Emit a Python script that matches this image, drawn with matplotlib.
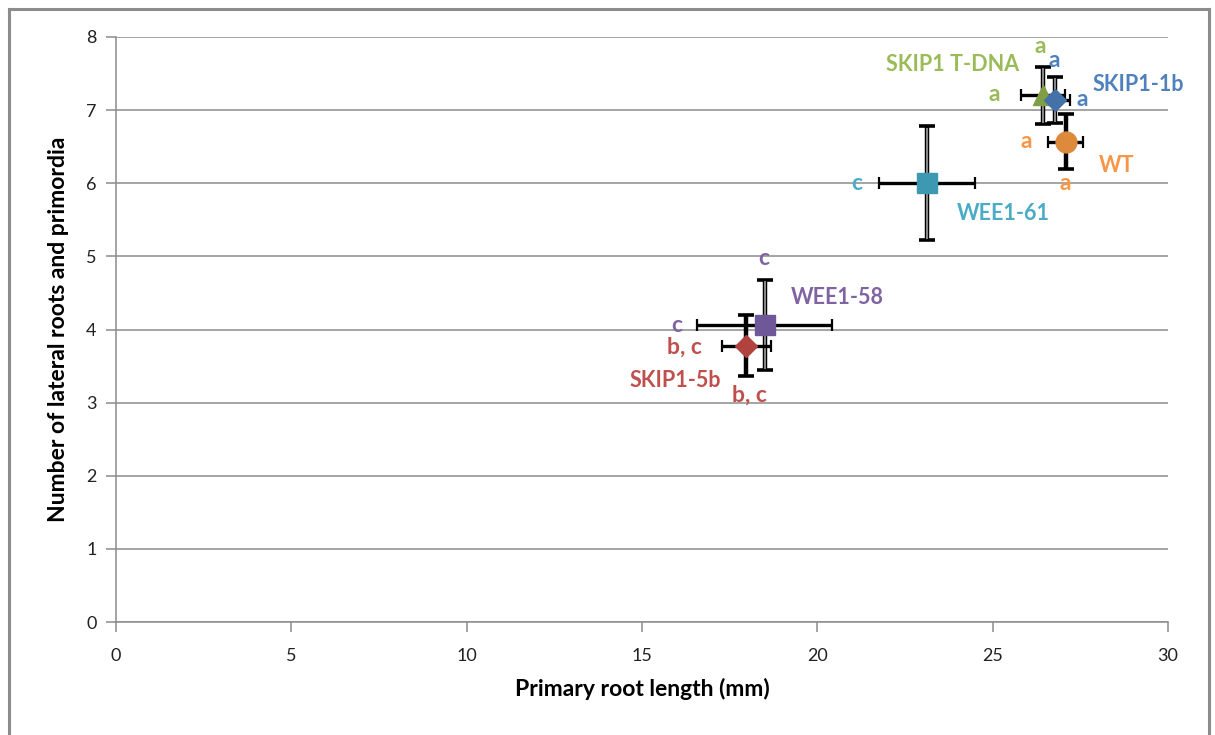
import matplotlib
matplotlib.use("Agg")
import matplotlib.pyplot as plt
from matplotlib.lines import Line2D

plt.rcParams['font.family'] = ['Lato', 'DejaVu Sans']

# Mean primary root length (mm) and number of lateral roots + primordia, with SE
genotypes = ['SKIP1 T-DNA', 'SKIP1-1b', 'WT', 'WEE1-61', 'SKIP1-5b', 'WEE1-58']
root_length = [26.43, 26.79, 27.08, 23.13, 17.98, 18.50]
root_length_err = [0.63, 0.42, 0.50, 1.36, 0.70, 1.92]
lateral_roots = [7.20, 7.14, 6.57, 6.00, 3.78, 4.06]
lateral_roots_err = [0.39, 0.31, 0.37, 0.78, 0.42, 0.62]

# significance letters: (letter for x, letter for y)
letters_x = ['a', 'a', 'a', 'c', 'b, c', 'c']
letters_y = ['a', 'a', 'a', '', 'b, c', 'c']

x_ticks = [0, 5, 10, 15, 20, 25, 30]
y_ticks = [0, 1, 2, 3, 4, 5, 6, 7, 8]

markers = ['^', 'D', 'o', 's', 'D', 's']
marker_sizes = [15, 11, 15, 14, 11, 15]
marker_colors = ['#7f9e45', '#4472a8', '#dd8a3c', '#3d98b2', '#b0423f', '#6f5897']
text_colors = ['#9bbb59', '#4f81bd', '#f79646', '#4bacc6', '#c0504d', '#8064a2']
vbar_gray = [True, True, False, True, False, True]

# label offsets in points: name, x-letter, y-letter
name_off = [(-65, 22), (60, 11), (37, -17), (55, -22), (-51, -25), (52, 20)]
xlet_off = [(-35, 1), (19, 0), (-28, 0), (-51, 0), (-45, -1), (-63, 0)]
ylet_off = [(-2, 35), (-1, 28), (0, -30), (0, 0), (2, -36), (-1, 48)]

fig = plt.figure(figsize=(12.15, 7.35), dpi=100)
ax = fig.add_axes([0.0955, 0.1537, 0.8658, 0.796])

ax.set_xlim(0, 30)
ax.set_ylim(0, 8)
ax.set_xticks(x_ticks)
ax.set_yticks(y_ticks)
ax.yaxis.grid(True, color='#8c8c8c', linewidth=1.1)
ax.set_axisbelow(True)
for s in ['top', 'right']:
    ax.spines[s].set_visible(False)
for s in ['left', 'bottom']:
    ax.spines[s].set_color('#8c8c8c')
    ax.spines[s].set_linewidth(1.1)
ax.tick_params(axis='both', direction='out', length=7, width=1.1, color='#8c8c8c',
               labelsize=13, labelcolor='#222222')
ax.tick_params(axis='x', pad=12)
ax.tick_params(axis='y', pad=7)

ax.set_xlabel('Primary root length (mm)', fontsize=16.5, fontweight='bold', labelpad=10)
ax.set_ylabel('Number of lateral roots and primordia', fontsize=16.5, fontweight='bold',
              labelpad=12)

for i in range(len(genotypes)):
    x, y = root_length[i], lateral_roots[i]
    # vertical error bar
    ax.errorbar(x, y, yerr=lateral_roots_err[i], fmt='none', ecolor='black',
                elinewidth=3.2, capsize=6, capthick=2.6, zorder=3)
    if vbar_gray[i]:
        ax.errorbar(x, y, yerr=lateral_roots_err[i] * 0.97, fmt='none', ecolor='#8a8a8a',
                    elinewidth=1.4, capsize=0, zorder=3.1)
    # horizontal error bar
    ax.errorbar(x, y, xerr=root_length_err[i], fmt='none', ecolor='black',
                elinewidth=2.4, capsize=4.5, capthick=1.6, zorder=3.2)
    ax.plot(x, y, marker=markers[i], ms=marker_sizes[i], color=marker_colors[i],
            mec=marker_colors[i], linestyle='none', zorder=4 + i * 0.01)

    kw = dict(xycoords='data', textcoords='offset points', ha='center', va='center',
              fontweight='bold', color=text_colors[i], zorder=6)
    ax.annotate(genotypes[i], (x, y), xytext=name_off[i], fontsize=15.5, **kw)
    if letters_x[i]:
        ax.annotate(letters_x[i], (x, y), xytext=xlet_off[i], fontsize=16.5, **kw)
    if letters_y[i]:
        ax.annotate(letters_y[i], (x, y), xytext=ylet_off[i], fontsize=16.5, **kw)

# chart area frame
W, H = 1215, 735
frame_kw = dict(color='#8c8c8c', linewidth=2.2, transform=fig.transFigure)
fig.add_artist(Line2D([9 / W, 9 / W], [0, 1 - 9 / H], **frame_kw))
fig.add_artist(Line2D([9 / W, 1209 / W], [1 - 9 / H, 1 - 9 / H], **frame_kw))
fig.add_artist(Line2D([1209 / W, 1209 / W], [0, 1 - 9 / H], **frame_kw))

fig.savefig('out.png', dpi=100)
